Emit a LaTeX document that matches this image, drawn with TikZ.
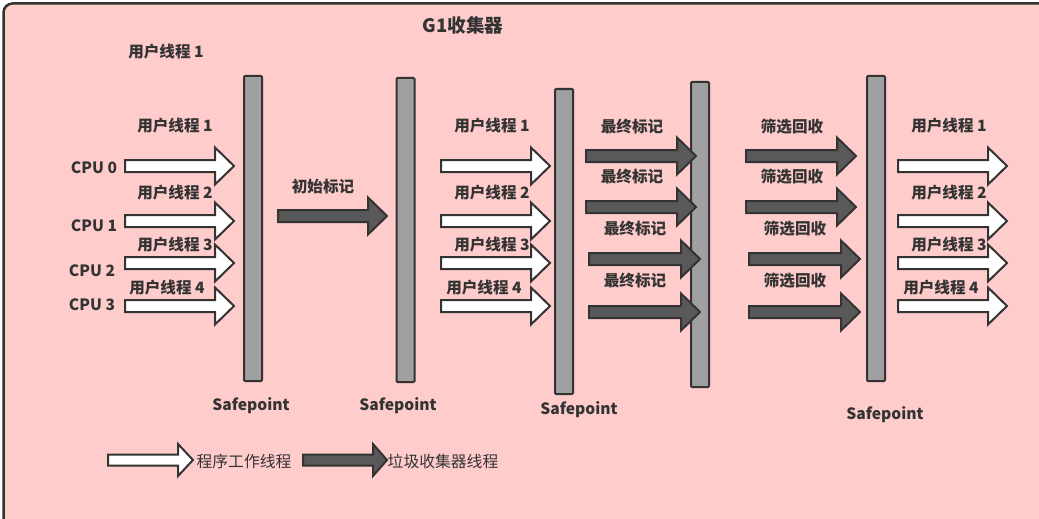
\documentclass[tikz,border=0pt]{standalone}
\usepackage{fontspec}
\setmainfont{Noto Sans CJK SC}
\definecolor{pinkbg}{HTML}{FFCCCC}
\definecolor{edge}{HTML}{333333}
\definecolor{bargray}{HTML}{A0A0A0}
\definecolor{darkarrow}{HTML}{595959}
\newcommand\harrow[7]{%
  \draw[#1] ({#2},{#4-#5}) -- ({#3-#7},{#4-#5}) -- ({#3-#7},{#4-#6}) -- ({#3},{#4})
    -- ({#3-#7},{#4+#6}) -- ({#3-#7},{#4+#5}) -- ({#2},{#4+#5}) -- cycle;}
\newcommand\warrow[3]{\harrow{whitearrow}{#1}{#2}{#3}{6}{18.5}{19}}
\newcommand\darrow[3]{\harrow{grayarrow}{#1}{#2}{#3}{6}{18.5}{19}}
\tikzset{
  whitearrow/.style={draw=edge, fill=white, line width=2pt, line join=miter},
  grayarrow/.style={draw=edge, fill=darkarrow, line width=2pt, line join=miter},
  bar/.style={draw=edge, fill=bargray, line width=2pt, rounded corners=1pt,
    minimum width=18pt, inner sep=0pt},
  lbl/.style={font=\bfseries\fontsize{15.6}{16}\selectfont, text=edge, inner sep=0pt},
  leg/.style={font=\fontsize{15.8}{16}\selectfont, text=edge, inner sep=0pt},
}
\begin{document}
\begin{tikzpicture}[x=1pt, y=-1pt]
\useasboundingbox (0,0) rectangle (1039,519);
\fill[white] (0,0) rectangle (1039,519);
\begin{scope}
\clip (0,0) rectangle (1039,519);
\draw[edge, fill=pinkbg, line width=2.5pt, rounded corners=9pt] (3.5,3.5) rectangle (1070,540);
\end{scope}

\node[lbl, font=\bfseries\fontsize{18.6}{20}\selectfont] (title) at (463,25) {G1收集器};
\node[lbl] (top) at (166,52) {用户线程 1};

% bars
\node[bar, minimum height=305pt] (b1) at (253,228.5) {};
\node[bar, minimum height=304pt] (b2) at (405.5,230) {};
\node[bar, minimum height=305pt] (b3) at (564,241.5) {};
\node[bar, minimum height=305pt] (b4) at (700,234.5) {};
\node[bar, minimum height=305pt] (b5) at (876,228.5) {};

% column 1
\warrow{125}{234}{166}
\warrow{125}{234}{221}
\warrow{125}{234}{263}
\warrow{125}{234}{306}
\node[lbl] (u11) at (175,126) {用户线程 1};
\node[lbl] (u12) at (175,193) {用户线程 2};
\node[lbl] (u13) at (175,245) {用户线程 3};
\node[lbl] (u14) at (167,288) {用户线程 4};
\node[lbl] (c0) at (94,168) {CPU 0};
\node[lbl] (c1) at (94,226) {CPU 1};
\node[lbl] (c2) at (92,271) {CPU 2};
\node[lbl] (c3) at (92,305) {CPU 3};

% column 2
\darrow{278}{387}{216}
\node[lbl] (init) at (323,187) {初始标记};

% column 3
\warrow{441}{550}{166}
\warrow{441}{550}{221}
\warrow{441}{550}{263}
\warrow{441}{550}{306}
\node[lbl] (u31) at (492,126) {用户线程 1};
\node[lbl] (u32) at (492,193) {用户线程 2};
\node[lbl] (u33) at (492,245) {用户线程 3};
\node[lbl] (u34) at (484,288) {用户线程 4};

% column 4
\darrow{586}{696}{156}
\darrow{586}{696}{207}
\darrow{589}{700}{259}
\darrow{589}{700}{312}
\node[lbl] (f1) at (632,127) {最终标记};
\node[lbl] (f2) at (632,177) {最终标记};
\node[lbl] (f3) at (635,229) {最终标记};
\node[lbl] (f4) at (635,281) {最终标记};

% column 5
\darrow{746}{856}{156}
\darrow{746}{856}{207}
\darrow{749}{860}{259}
\darrow{749}{860}{312}
\node[lbl] (s1) at (792,127) {筛选回收};
\node[lbl] (s2) at (792,177) {筛选回收};
\node[lbl] (s3) at (795,229) {筛选回收};
\node[lbl] (s4) at (795,281) {筛选回收};

% column 6
\warrow{898}{1007}{166}
\warrow{898}{1007}{221}
\warrow{898}{1007}{263}
\warrow{898}{1007}{306}
\node[lbl] (u61) at (949,126) {用户线程 1};
\node[lbl] (u62) at (949,193) {用户线程 2};
\node[lbl] (u63) at (949,245) {用户线程 3};
\node[lbl] (u64) at (941,288) {用户线程 4};

% safepoints
\node[lbl] (sp1) at (251,406) {Safepoint};
\node[lbl] (sp2) at (398,406) {Safepoint};
\node[lbl] (sp3) at (579,410) {Safepoint};
\node[lbl] (sp4) at (885,415) {Safepoint};

% legend
\harrow{whitearrow}{108}{193}{460}{5.5}{16}{15}
\node[leg] (lg1) at (244,461) {程序工作线程};
\harrow{grayarrow}{303}{387}{460}{5.5}{16}{14}
\node[leg] (lg2) at (443,461) {垃圾收集器线程};
\end{tikzpicture}
\end{document}
